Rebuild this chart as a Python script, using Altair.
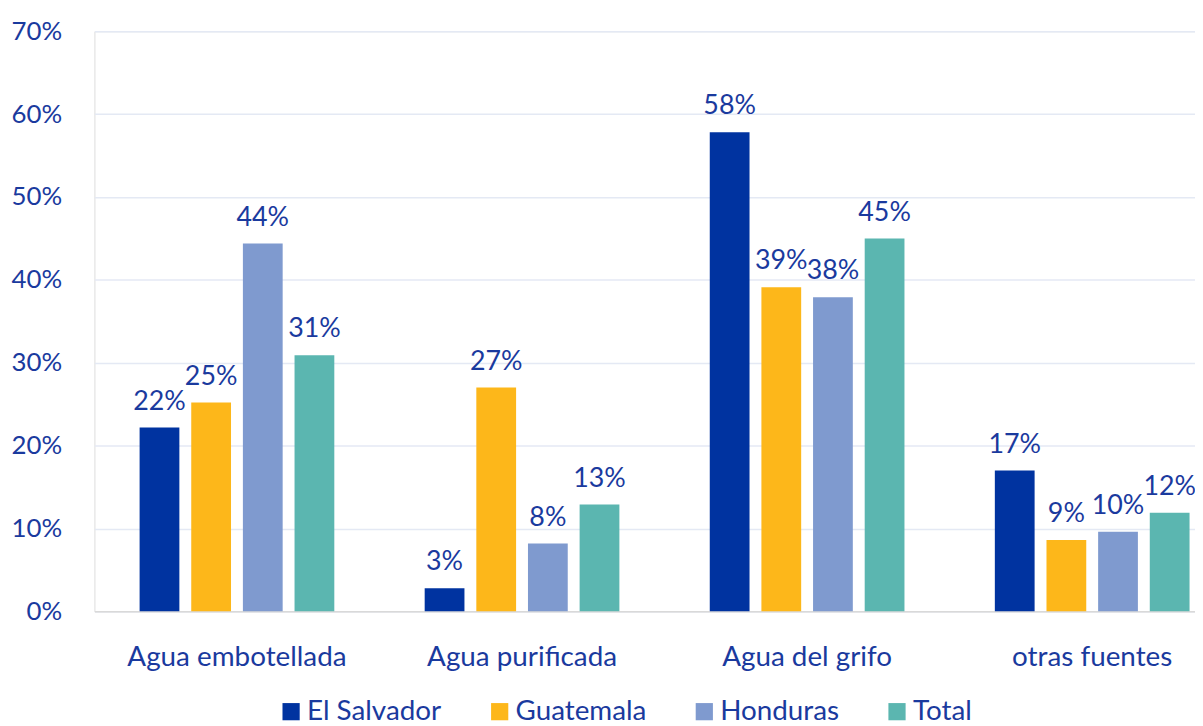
import altair as alt
import pandas as pd

categories = ["Agua embotellada", "Agua purificada", "Agua del grifo", "otras fuentes"]
series = ["El Salvador", "Guatemala", "Honduras", "Total"]
el_salvador = [0.222, 0.028, 0.578, 0.170]
guatemala = [0.252, 0.270, 0.391, 0.086]
honduras = [0.444, 0.082, 0.379, 0.096]
total = [0.309, 0.129, 0.450, 0.119]
colors = ["#0033A0", "#FDB71A", "#7F9ACF", "#5BB6B0"]

rows = []
for s, vals in zip(series, [el_salvador, guatemala, honduras, total]):
    for c, v in zip(categories, vals):
        rows.append({"cat": c, "serie": s, "val": v})
df = pd.DataFrame(rows)

FONT = "Lato"
TXT = "#1a3a9e"

x = alt.X("cat:N", sort=categories, title=None,
          scale=alt.Scale(paddingInner=0.317, paddingOuter=0.1585, range=[0, 1148]),
          axis=alt.Axis(labelAngle=0, labelFontSize=28, labelFont=FONT, labelColor=TXT,
                        labelPadding=33, labelLimit=0, ticks=False, domainColor="#d9d9d9",
                        domainWidth=1.5))
xo = alt.XOffset("serie:N", sort=series, scale=alt.Scale(paddingInner=0.23, paddingOuter=0))
y = alt.Y("val:Q", title=None,
          scale=alt.Scale(domain=[0, 0.7], nice=False),
          axis=alt.Axis(format=".0%", values=[0, 0.1, 0.2, 0.3, 0.4, 0.5, 0.6, 0.7],
                        labelFontSize=26, labelFont=FONT, labelColor=TXT, labelPadding=33,
                        ticks=False, domain=False, gridColor="#e4e9f4", gridWidth=1.5))

bars = alt.Chart(df).mark_bar().encode(
    x=x, xOffset=xo, y=y,
    color=alt.Color("serie:N", sort=series,
                    scale=alt.Scale(domain=series, range=colors),
                    legend=alt.Legend(title=None, orient="none", legendX=184, legendY=671,
                                      direction="horizontal", symbolType="square", symbolSize=300,
                                      symbolStrokeWidth=0, labelFontSize=28, labelFont=FONT,
                                      labelColor=TXT, columnPadding=44, labelOffset=2)),
)

labels = alt.Chart(df).mark_text(baseline="alphabetic", dy=-18, fontSize=27, font=FONT, color=TXT).encode(
    x=x, xOffset=xo, y=y,
    text=alt.Text("val:Q", format=".0%"),
)

chart = (bars + labels).properties(
    width=1108, height=584,
    padding={"left": 87, "top": 21, "right": 0, "bottom": 113},
    autosize=alt.AutoSizeParams(type="none"),
).configure_view(stroke=None).configure(background="white")

chart.save("out.html", embed_options={"renderer": "svg", "actions": False})
